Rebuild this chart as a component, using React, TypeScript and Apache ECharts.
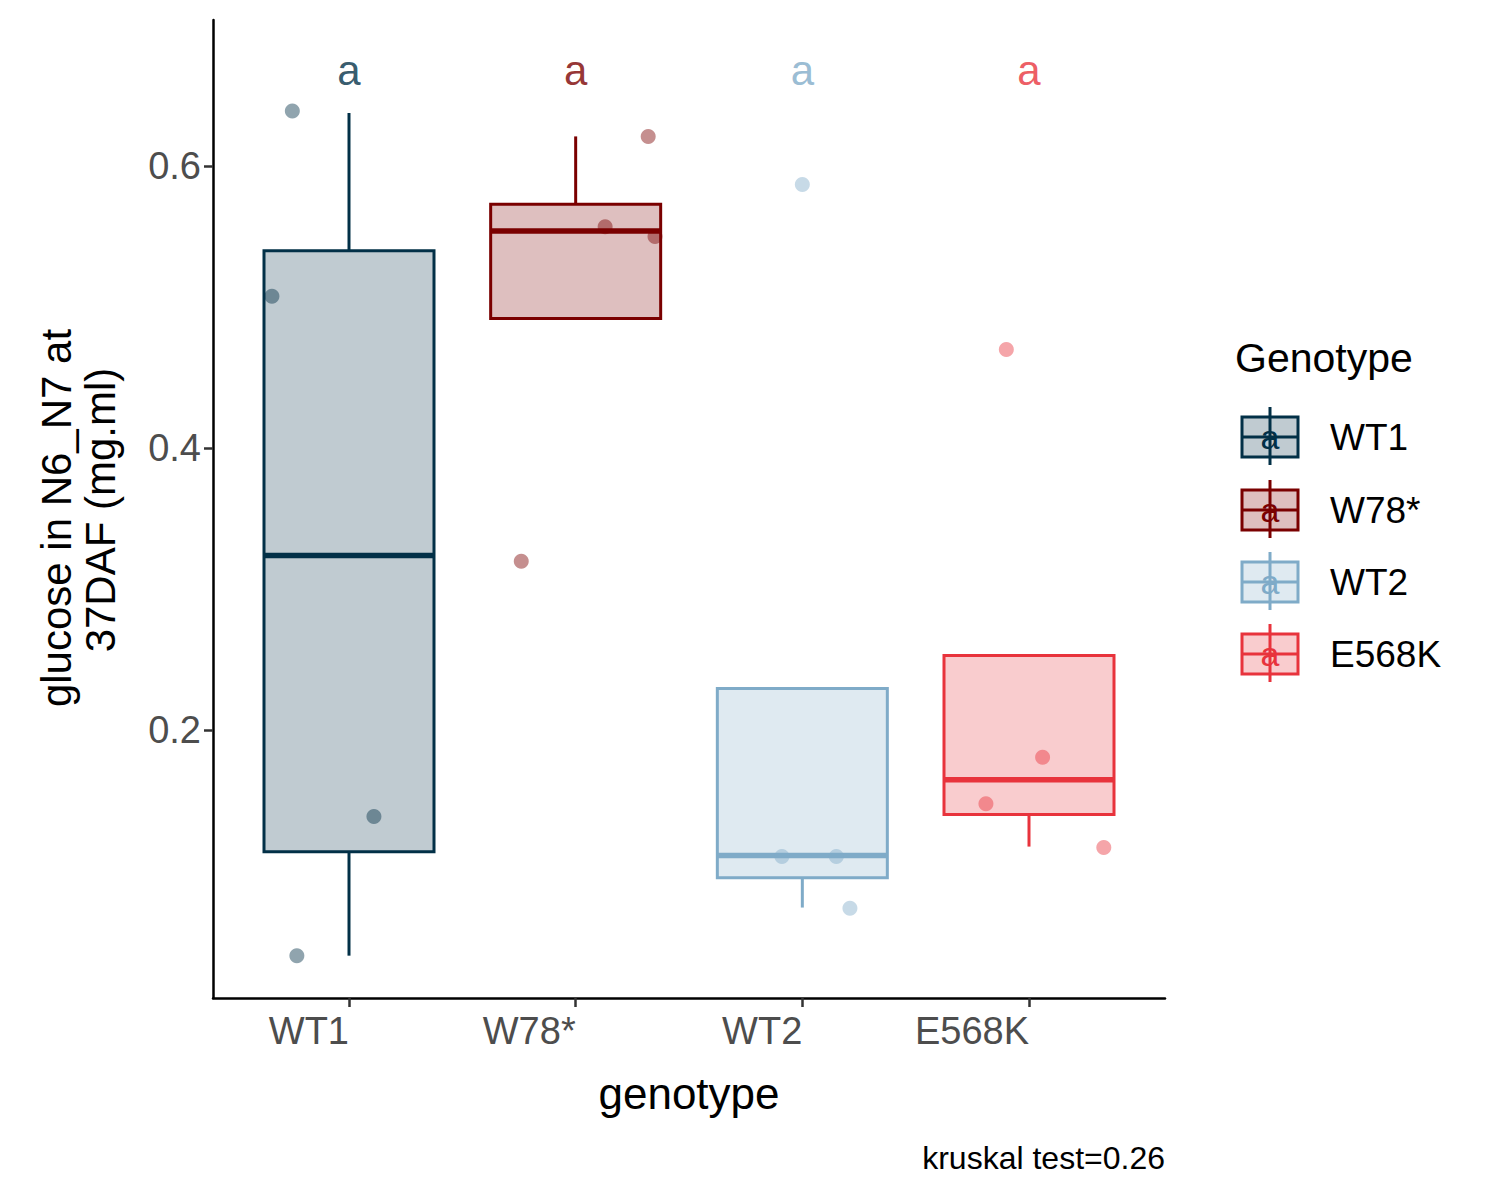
import React, { useEffect, useRef } from "react";
import * as echarts from "echarts";

const categories = ["WT1", "W78*", "WT2", "E568K"];
const colors = ["#023047", "#7a0000", "#7fabc8", "#e8333c"];
// [whiskerLow, q1, median, q3, whiskerHigh]
const boxStats = [
  [0.0404, 0.114, 0.324, 0.540, 0.6376],
  [0.492, 0.492, 0.554, 0.573, 0.621],
  [0.0745, 0.0957, 0.1113, 0.2298, 0.2298],
  [0.1177, 0.1404, 0.165, 0.2532, 0.2532],
];
// jittered points: [x position, value, group]
const points = [
  [-0.25, 0.639, 0], [-0.34, 0.5078, 0], [0.11, 0.139, 0], [-0.23, 0.0404, 0],
  [1.32, 0.621, 1], [1.13, 0.557, 1], [1.35, 0.550, 1], [0.76, 0.32, 1],
  [2.0, 0.587, 2], [1.91, 0.1106, 2], [2.15, 0.1106, 2], [2.21, 0.074, 2],
  [2.9, 0.470, 3], [3.06, 0.181, 3], [2.81, 0.148, 3], [3.33, 0.117, 3],
];
const letters = ["a", "a", "a", "a"];
const letterY = 0.668;
const yTicks = [0.2, 0.4, 0.6];

function hexA(hex: string, a: number) {
  const n = parseInt(hex.slice(1), 16);
  return `rgba(${(n >> 16) & 255},${(n >> 8) & 255},${n & 255},${a})`;
}

export default function App() {
  const ref = useRef<HTMLDivElement>(null);
  useEffect(() => {
    const chart = echarts.init(ref.current!, null, { renderer: "svg" });
    const hw = 0.375;
    const legendY = [429, 502, 574, 646];
    const legendGraphics: any[] = [];
    categories.forEach((c, i) => {
      const y = legendY[i];
      const col = colors[i];
      legendGraphics.push(
        { type: "line", shape: { x1: 1262, y1: y - 30, x2: 1262, y2: y + 28 }, style: { stroke: col, lineWidth: 3 } },
        { type: "rect", shape: { x: 1234, y: y - 20, width: 56, height: 40 }, style: { fill: hexA(col, 0.25), stroke: col, lineWidth: 3 } },
        { type: "line", shape: { x1: 1234, y1: y, x2: 1290, y2: y }, style: { stroke: col, lineWidth: 3 } },
        { type: "text", x: 1262, y: y, style: { text: letters[i], fill: col, fontSize: 34, fontFamily: "Liberation Sans", align: "center", verticalAlign: "middle" } },
        { type: "text", x: 1322, y: y, style: { text: c, fill: "#000", fontSize: 37, fontFamily: "Liberation Sans", align: "left", verticalAlign: "middle" } }
      );
    });
    chart.setOption({
      animation: false,
      grid: { left: 205, top: 12, width: 952, height: 978 },
      xAxis: {
        type: "value", min: -0.6, max: 3.6,
        splitLine: { show: false },
        axisLine: { onZero: false, lineStyle: { color: "#000", width: 2.5 } },
        axisTick: { customValues: [0, 1, 2, 3], length: 9, lineStyle: { color: "#333", width: 2.5 } },
        axisLabel: {
          customValues: [0, 1, 2, 3], align: "right", margin: 14,
          fontSize: 38, color: "#4d4d4d", fontFamily: "Liberation Sans",
          formatter: (v: number) => categories[Math.round(v)] ?? "",
        },
      },
      yAxis: {
        type: "value", min: 0.0104, max: 0.7035,
        splitLine: { show: false },
        axisLine: { show: true, onZero: false, lineStyle: { color: "#000", width: 2.5 } },
        axisTick: { show: true, customValues: yTicks, length: 9, lineStyle: { color: "#333", width: 2.5 } },
        axisLabel: {
          customValues: yTicks, margin: 12, fontSize: 38, color: "#4d4d4d", fontFamily: "Liberation Sans",
          formatter: (v: number) => v.toFixed(1),
        },
      },
      series: [
        {
          type: "custom",
          data: boxStats.map((s, i) => [i, ...s]),
          renderItem: (params: any, api: any) => {
            const i = api.value(0);
            const col = colors[i];
            const [lo, q1, med, q3, hi] = [1, 2, 3, 4, 5].map((k) => api.value(k));
            const pL = api.coord([i - hw, q3]);
            const pR = api.coord([i + hw, q1]);
            const c = api.coord([i, med]);
            const pLo = api.coord([i, lo]);
            const pHi = api.coord([i, hi]);
            const pQ1 = api.coord([i, q1]);
            const pQ3 = api.coord([i, q3]);
            return {
              type: "group",
              children: [
                { type: "line", shape: { x1: c[0], y1: pHi[1], x2: c[0], y2: pQ3[1] }, style: { stroke: col, lineWidth: 3 } },
                { type: "line", shape: { x1: c[0], y1: pLo[1], x2: c[0], y2: pQ1[1] }, style: { stroke: col, lineWidth: 3 } },
                { type: "rect", shape: { x: pL[0], y: pL[1], width: pR[0] - pL[0], height: pR[1] - pL[1] }, style: { fill: hexA(col, 0.25), stroke: col, lineWidth: 3 } },
                { type: "line", shape: { x1: pL[0], y1: c[1], x2: pR[0], y2: c[1] }, style: { stroke: col, lineWidth: 5.5 } },
              ],
            };
          },
        },
        {
          type: "scatter",
          symbolSize: 15,
          data: points.map((p) => ({ value: [p[0], p[1]], itemStyle: { color: hexA(colors[p[2]], 0.55) } })),
        },
        {
          type: "scatter",
          symbolSize: 0,
          data: letters.map((l, i) => ({
            value: [i, letterY],
            label: { color: colors[i] },
          })),
          label: {
            show: true, position: "inside", fontSize: 42, fontFamily: "Liberation Sans",
            formatter: (p: any) => letters[p.dataIndex],
          },
        },
      ],
      graphic: [
        { type: "text", x: 48, y: 510, rotation: Math.PI / 2, style: { text: "glucose in N6_N7 at", fontSize: 42, fill: "#000", fontFamily: "Liberation Sans", align: "center", verticalAlign: "middle" } },
        { type: "text", x: 92, y: 502, rotation: Math.PI / 2, style: { text: "37DAF (mg.ml)", fontSize: 42, fill: "#000", fontFamily: "Liberation Sans", align: "center", verticalAlign: "middle" } },
        { type: "text", x: 681, y: 1085, style: { text: "genotype", fontSize: 44, fill: "#000", fontFamily: "Liberation Sans", align: "center", verticalAlign: "middle" } },
        { type: "text", x: 1157, y: 1150, style: { text: "kruskal test=0.26", fontSize: 32, fill: "#000", fontFamily: "Liberation Sans", align: "right", verticalAlign: "middle" } },
        { type: "text", x: 1227, y: 350, style: { text: "Genotype", fontSize: 41, fill: "#000", fontFamily: "Liberation Sans", align: "left", verticalAlign: "middle" } },
        ...legendGraphics,
      ],
    });
    return () => chart.dispose();
  }, []);
  return <div ref={ref} style={{ width: 1500, height: 1200 }} />;
}
